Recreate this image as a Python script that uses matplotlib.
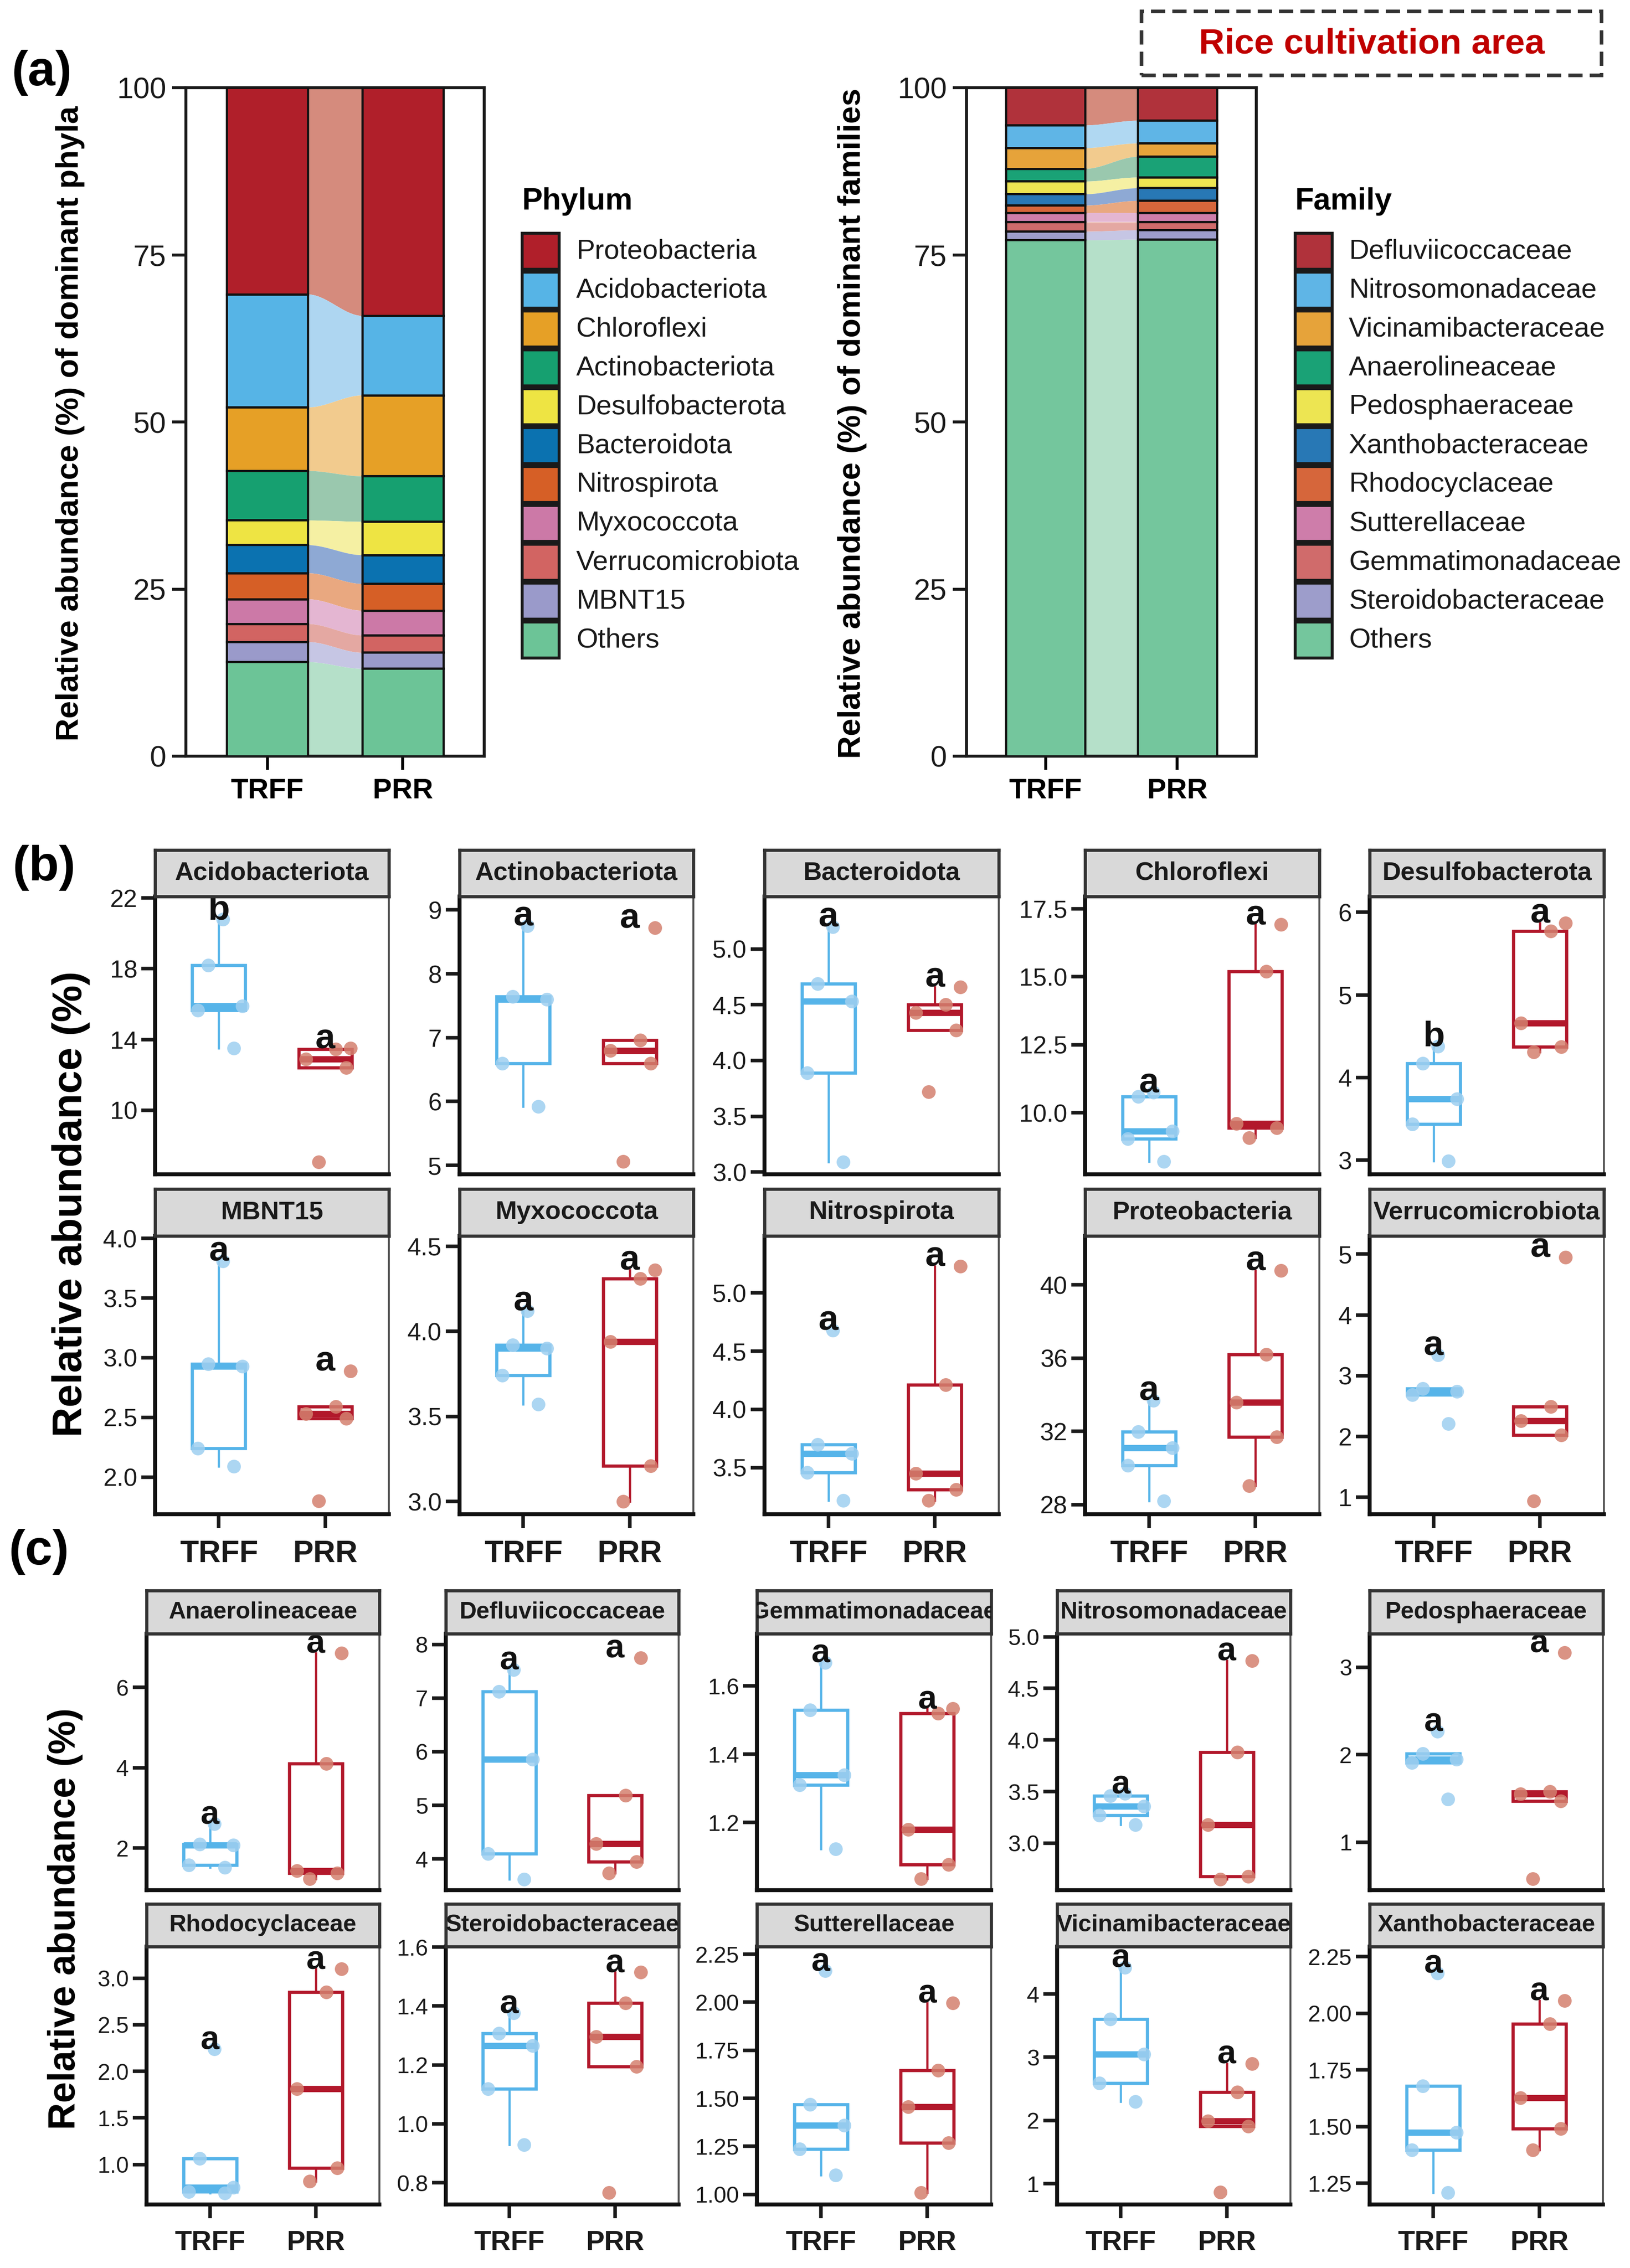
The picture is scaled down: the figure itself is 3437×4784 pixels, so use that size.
import numpy as np
import matplotlib
matplotlib.use('Agg')
import matplotlib.pyplot as plt
from matplotlib.patches import Rectangle

plt.rcParams['font.family'] = ['Liberation Sans', 'DejaVu Sans']

# ---------------- data ----------------
groups = ['TRFF', 'PRR']

phyla = ['Proteobacteria', 'Acidobacteriota', 'Chloroflexi', 'Actinobacteriota',
         'Desulfobacterota', 'Bacteroidota', 'Nitrospirota', 'Myxococcota',
         'Verrucomicrobiota', 'MBNT15', 'Others']
phylum_trff = [30.9, 16.9, 9.5, 7.4, 3.7, 4.2, 3.9, 3.7, 2.7, 3.0, 14.1]
phylum_prr = [34.1, 11.9, 12.1, 6.8, 5.0, 4.3, 4.0, 3.7, 2.6, 2.4, 13.1]

families = ['Defluviicoccaceae', 'Nitrosomonadaceae', 'Vicinamibacteraceae',
            'Anaerolineaceae', 'Pedosphaeraceae', 'Xanthobacteraceae',
            'Rhodocyclaceae', 'Sutterellaceae', 'Gemmatimonadaceae',
            'Steroidobacteraceae', 'Others']
family_trff = [5.6, 3.4, 3.1, 1.9, 1.9, 1.7, 1.1, 1.4, 1.4, 1.3, 77.2]
family_prr = [4.9, 3.4, 2.0, 3.1, 1.6, 1.9, 1.8, 1.4, 1.2, 1.4, 77.3]

phylum_colors = ['#B01F2A', '#56B4E6', '#E6A026', '#16A070', '#EEE443', '#0B72B0',
                 '#D65F26', '#CC79A7', '#D26462', '#9A9ACA', '#6CC497']
phylum_flow = ['#D58B7D', '#AED6F1', '#F2CB8E', '#9AC8AE', '#F5F0A3', '#8EA9D4',
               '#E9A880', '#E4B6D2', '#E4A8A2', '#C6C6E4', '#B5E0C9']
family_colors = ['#B0323B', '#5FB5E6', '#E6A33A', '#1AA276', '#EDE552', '#2878B5',
                 '#D6663B', '#CE7DAA', '#D06B6B', '#9D9DCB', '#74C69D']
family_flow = ['#D58B7D', '#B0D8F2', '#F2CB8E', '#9AC8AE', '#F5F0A3', '#8EA9D4',
               '#E9A880', '#E4B6D2', '#E4A8A2', '#C6C6E4', '#B5E0C9']

b_taxa = ['Acidobacteriota', 'Actinobacteriota', 'Bacteroidota', 'Chloroflexi',
          'Desulfobacterota', 'MBNT15', 'Myxococcota', 'Nitrospirota',
          'Proteobacteria', 'Verrucomicrobiota']
b_trff = [
    [13.5, 15.65, 15.9, 18.2, 20.8],
    [5.92, 6.60, 7.60, 7.64, 8.75],
    [3.09, 3.89, 4.53, 4.69, 5.20],
    [8.21, 9.05, 9.32, 10.60, 10.75],
    [2.99, 3.44, 3.74, 4.17, 4.38],
    [2.09, 2.24, 2.93, 2.95, 3.81],
    [3.57, 3.74, 3.90, 3.92, 4.12],
    [3.22, 3.46, 3.62, 3.70, 4.68],
    [28.2, 30.14, 31.1, 31.97, 33.69],
    [2.21, 2.69, 2.74, 2.79, 3.34],
]
b_prr = [
    [7.06, 12.4, 12.9, 13.45, 13.5],
    [5.06, 6.60, 6.80, 6.96, 8.72],
    [3.72, 4.27, 4.43, 4.50, 4.66],
    [9.09, 9.44, 9.60, 15.19, 16.92],
    [4.31, 4.37, 4.66, 5.77, 5.87],
    [1.80, 2.49, 2.53, 2.59, 2.89],
    [3.00, 3.21, 3.94, 4.31, 4.36],
    [3.22, 3.31, 3.45, 4.21, 5.23],
    [29.03, 31.68, 33.58, 36.2, 40.79],
    [0.94, 2.02, 2.26, 2.49, 4.95],
]
b_letters_trff = ['b', 'a', 'a', 'a', 'b', 'a', 'a', 'a', 'a', 'a']
b_letters_prr = ['a', 'a', 'a', 'a', 'a', 'a', 'a', 'a', 'a', 'a']
b_ticks = [[10, 14, 18, 22], [5, 6, 7, 8, 9], [3.0, 3.5, 4.0, 4.5, 5.0],
           [10.0, 12.5, 15.0, 17.5], [3, 4, 5, 6], [2.0, 2.5, 3.0, 3.5, 4.0],
           [3.0, 3.5, 4.0, 4.5], [3.5, 4.0, 4.5, 5.0], [28, 32, 36, 40],
           [1, 2, 3, 4, 5]]

c_taxa = ['Anaerolineaceae', 'Defluviicoccaceae', 'Gemmatimonadaceae',
          'Nitrosomonadaceae', 'Pedosphaeraceae', 'Rhodocyclaceae',
          'Steroidobacteraceae', 'Sutterellaceae', 'Vicinamibacteraceae',
          'Xanthobacteraceae']
c_trff = [
    [1.52, 1.58, 2.07, 2.10, 2.60],
    [3.62, 4.10, 5.86, 7.12, 7.53],
    [1.123, 1.31, 1.34, 1.53, 1.669],
    [3.18, 3.27, 3.36, 3.46, 3.48],
    [1.49, 1.91, 1.95, 2.01, 2.27],
    [0.69, 0.71, 0.755, 1.066, 2.24],
    [0.929, 1.119, 1.266, 1.307, 1.376],
    [1.10, 1.237, 1.36, 1.468, 2.164],
    [2.30, 2.59, 3.045, 3.60, 4.42],
    [1.208, 1.396, 1.474, 1.68, 2.177],
]
c_prr = [
    [1.23, 1.37, 1.43, 4.10, 6.86],
    [3.74, 3.95, 4.29, 5.19, 7.75],
    [1.035, 1.077, 1.18, 1.52, 1.533],
    [2.65, 2.68, 3.18, 3.88, 4.77],
    [0.58, 1.47, 1.55, 1.58, 3.17],
    [0.82, 0.96, 1.81, 2.85, 3.10],
    [0.766, 1.194, 1.296, 1.41, 1.515],
    [1.009, 1.268, 1.456, 1.645, 1.997],
    [0.865, 1.91, 1.99, 2.45, 2.90],
    [1.396, 1.49, 1.626, 1.954, 2.056],
]
c_letters_trff = ['a'] * 10
c_letters_prr = ['a'] * 10
c_ticks = [[2, 4, 6], [4, 5, 6, 7, 8], [1.2, 1.4, 1.6], [3.0, 3.5, 4.0, 4.5, 5.0],
           [1, 2, 3], [1.0, 1.5, 2.0, 2.5, 3.0], [0.8, 1.0, 1.2, 1.4, 1.6],
           [1.00, 1.25, 1.50, 1.75, 2.00, 2.25], [1, 2, 3, 4],
           [1.25, 1.50, 1.75, 2.00, 2.25]]

# ---------------- layout / style ----------------
b_ylim = [(6.37, 22.09), (4.86, 9.21), (2.98, 5.47), (7.74, 17.95), (2.83, 6.19),
          (1.69, 4.02), (2.925, 4.56), (3.10, 5.49), (27.47, 42.67), (0.72, 5.30)]
b_dec = [0, 0, 1, 1, 0, 1, 1, 1, 0, 0]
c_ylim = [(0.95, 7.34), (3.42, 8.20), (1.002, 1.753), (2.545, 5.03), (0.45, 3.385),
          (0.57, 3.34), (0.726, 1.602), (0.947, 2.29), (0.67, 4.75), (1.156, 2.294)]
c_dec = [0, 0, 1, 1, 0, 1, 1, 2, 0, 2]

W, H = 3437, 4784
DPI = 300
fig = plt.figure(figsize=(W / DPI, H / DPI), dpi=DPI)
fig.patch.set_facecolor('white')


def ax_px(l, t, r, b):
    return fig.add_axes([l / W, 1 - b / H, (r - l) / W, (b - t) / H])


def fx(x):
    return x / W


def fy(y):
    return 1 - y / H


def rect_px(l, t, w, h, **kw):
    r = Rectangle((l / W, 1 - (t + h) / H), w / W, h / H, transform=fig.transFigure, **kw)
    fig.add_artist(r)


# ---------------- panel (a) ----------------
def stacked(ax, v1, v2, colors, flow_colors):
    vals = [v1, v2]
    bw = 0.6
    cum = []
    for vs in vals:
        bottoms = {}
        acc = 0.0
        for k in range(len(vs) - 1, -1, -1):
            bottoms[k] = acc
            acc += vs[k]
        cum.append(bottoms)
    for i, vs in enumerate(vals):
        for k in range(len(vs)):
            ax.bar(i + 1, vs[k], width=bw, bottom=cum[i][k], color=colors[k],
                   edgecolor='#111111', linewidth=1.1, zorder=3)
    xs = np.linspace(1 + bw / 2, 2 - bw / 2, 120)
    t = (xs - xs[0]) / (xs[-1] - xs[0])
    s = t * t * (3 - 2 * t)
    for k in range(len(v1)):
        lo = cum[0][k] + (cum[1][k] - cum[0][k]) * s
        hi = cum[0][k] + v1[k] + (cum[1][k] + v2[k] - cum[0][k] - v1[k]) * s
        ax.fill_between(xs, lo, hi, color=flow_colors[k], linewidth=0, zorder=2)
    ax.set_xlim(0.4, 2.6)
    ax.set_ylim(0, 100)
    ax.set_yticks([0, 25, 50, 75, 100])
    ax.set_xticks([1, 2])
    ax.set_xticklabels(groups, fontsize=14.5, fontweight='bold')
    ax.tick_params(axis='y', labelsize=15, length=7, width=1.5, colors='#1a1a1a', pad=3)
    ax.tick_params(axis='x', length=7, width=1.5, pad=4)
    for sp in ax.spines.values():
        sp.set_color('#1a1a1a')
        sp.set_linewidth(1.5)


axA1 = ax_px(392, 185, 1021, 1595)
stacked(axA1, phylum_trff, phylum_prr, phylum_colors, phylum_flow)
axA2 = ax_px(2038, 185, 2649, 1595)
stacked(axA2, family_trff, family_prr, family_colors, family_flow)

fig.text(fx(148), fy(893), 'Relative abundance (%) of dominant phyla', rotation=90,
         fontsize=16, fontweight='bold', ha='center', va='center')
fig.text(fx(1797), fy(893), 'Relative abundance (%) of dominant families', rotation=90,
         fontsize=16, fontweight='bold', ha='center', va='center')


def legend(x0, tx, title, names, colors):
    fig.text(fx(x0), fy(425), title, fontsize=15.5, fontweight='bold', ha='left', va='center')
    for i, (n, c) in enumerate(zip(names, colors)):
        cy = 530 + i * 82.0
        rect_px(x0, cy - 38, 78, 76, facecolor=c, edgecolor='#1a1a1a', linewidth=1.5)
        fig.text(fx(tx), fy(cy), n, fontsize=14, ha='left', va='center', color='#1a1a1a')


legend(1101, 1215, 'Phylum', phyla, phylum_colors)
legend(2731, 2844, 'Family', families, family_colors)

rect_px(2407, 24, 970, 135, facecolor='none', edgecolor='#333333', linewidth=1.8,
        linestyle=(0, (4, 2)))
fig.text(fx(2892), fy(93), 'Rice cultivation area', fontsize=18, fontweight='bold',
         color='#C00000', ha='center', va='center')

fig.text(fx(88), fy(153), '(a)', fontsize=25, fontweight='bold', ha='center', va='center')
fig.text(fx(93), fy(1830), '(b)', fontsize=25, fontweight='bold', ha='center', va='center')
fig.text(fx(82), fy(3273), '(c)', fontsize=25, fontweight='bold', ha='center', va='center')

# ---------------- panels (b), (c) ----------------
TR_COL = '#56B4E9'
PR_COL = '#B2182B'
TR_PT = '#9ECFF0'
PR_PT = '#D4806F'
jit_a = [0.14, -0.20, 0.22, -0.10, 0.04]
jit_b = [-0.06, 0.20, -0.18, 0.10, 0.24]


def box_panel(box, strip, name, trff, prr, lt, lp, ylim, ticks, dec, show_x, sz):
    strip_fs, tick_fs, xlab_fs, let_fs = sz
    l, r = box
    st, at, ab = strip
    ax = ax_px(l, at, r, ab)
    for pos, d, col, pcol, jit in [(1, trff, TR_COL, TR_PT, jit_a), (2, prr, PR_COL, PR_PT, jit_b)]:
        ax.boxplot([d], positions=[pos], widths=0.5, whis=1.5, showfliers=False,
                   showcaps=False, patch_artist=True,
                   boxprops=dict(facecolor='white', edgecolor=col, linewidth=1.6),
                   whiskerprops=dict(color=col, linewidth=1.1),
                   medianprops=dict(color=col, linewidth=3.2, solid_capstyle='butt'),
                   zorder=2)
        ax.scatter([pos + j for j in jit], d, s=48, color=pcol, alpha=0.85,
                   linewidths=0, zorder=4)
    ax.text(1, max(trff), lt, fontsize=let_fs, fontweight='bold', ha='center',
            va='baseline', zorder=6, color='#111111')
    ax.text(2, max(prr), lp, fontsize=let_fs, fontweight='bold', ha='center',
            va='baseline', zorder=6, color='#111111')
    ax.set_xlim(0.4, 2.6)
    ax.set_ylim(*ylim)
    ax.set_yticks(ticks)
    ax.set_yticklabels([f'{v:.{dec}f}' for v in ticks])
    ax.tick_params(axis='y', labelsize=tick_fs, length=7, width=1.8, colors='#1a1a1a', pad=2)
    ax.set_xticks([1, 2])
    if show_x:
        ax.set_xticklabels(groups, fontsize=xlab_fs, fontweight='bold')
        ax.tick_params(axis='x', length=7, width=1.8, pad=6, colors='#1a1a1a')
    else:
        ax.tick_params(axis='x', length=0, labelbottom=False)
    for k in ['top', 'right']:
        ax.spines[k].set_color('#555555')
        ax.spines[k].set_linewidth(1.0)
    for k in ['left', 'bottom']:
        ax.spines[k].set_color('#111111')
        ax.spines[k].set_linewidth(2.0)
    sax = ax_px(l, st, r, at)
    sax.set_facecolor('#D9D9D9')
    sax.set_xticks([])
    sax.set_yticks([])
    for sp in sax.spines.values():
        sp.set_color('#333333')
        sp.set_linewidth(1.6)
    sax.text(0.5, 0.5, name, transform=sax.transAxes, fontsize=strip_fs, fontweight='bold',
             ha='center', va='center', color='#1a1a1a', clip_on=True)
    return ax


cols_b = [(327, 820), (969, 1462), (1612, 2106), (2288, 2782), (2888, 3382)]
rows_b = [(1793, 1891, 2477), (2508, 2607, 3194)]
cols_c = [(309, 800), (940, 1431), (1596, 2090), (2229, 2721), (2888, 3380)]
rows_c = [(3355, 3446, 3987), (4016, 4106, 4650)]
size_b = (13, 12.5, 15.5, 18)
size_c = (12, 11.5, 14, 17)

for i in range(10):
    rr, cc = divmod(i, 5)
    box_panel(cols_b[cc], rows_b[rr], b_taxa[i], b_trff[i], b_prr[i],
              b_letters_trff[i], b_letters_prr[i], b_ylim[i], b_ticks[i], b_dec[i],
              rr == 1, size_b)
    box_panel(cols_c[cc], rows_c[rr], c_taxa[i], c_trff[i], c_prr[i],
              c_letters_trff[i], c_letters_prr[i], c_ylim[i], c_ticks[i], c_dec[i],
              rr == 1, size_c)

fig.text(fx(150), fy(2540), 'Relative abundance (%)', rotation=90, fontsize=21,
         fontweight='bold', ha='center', va='center')
fig.text(fx(138), fy(4047), 'Relative abundance (%)', rotation=90, fontsize=19,
         fontweight='bold', ha='center', va='center')

fig.savefig('out.png', dpi=DPI, facecolor='white')
